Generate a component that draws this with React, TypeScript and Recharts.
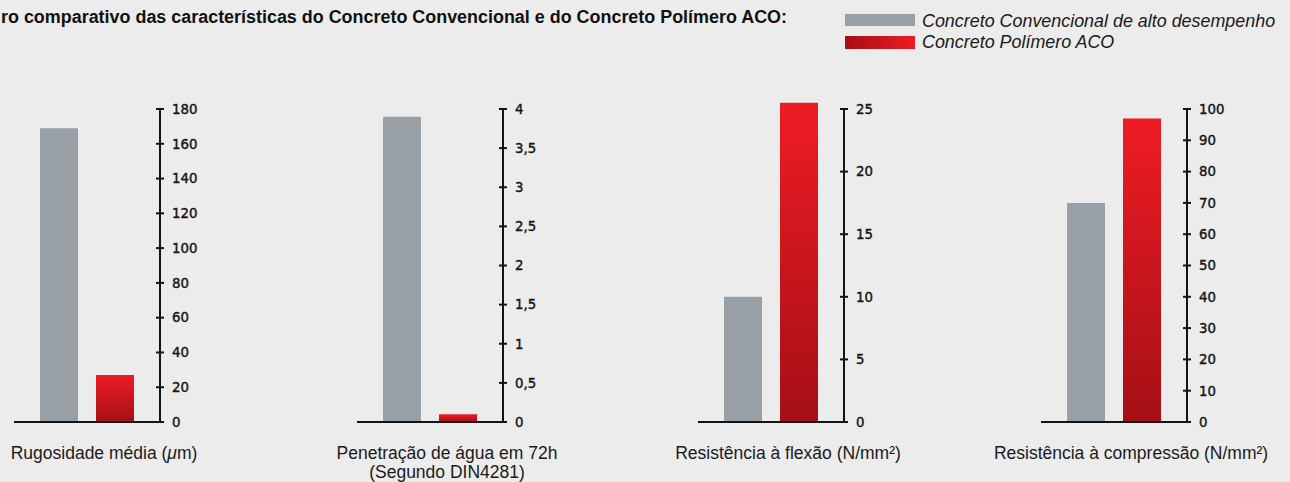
import { BarChart, Bar, XAxis, YAxis, ReferenceLine } from 'recharts'

// chart values
const categories = [
  'Rugosidade média (μm)',
  'Penetração de água em 72h\n(Segundo DIN4281)',
  'Resistência à flexão (N/mm²)',
  'Resistência à compressão (N/mm²)',
]
const convencional = [169, 3.9, 10, 70]
const polimero = [27, 0.1, 25.5, 97]
const tickSets = [
  [0, 20, 40, 60, 80, 100, 120, 140, 160, 180],
  [0, 0.5, 1, 1.5, 2, 2.5, 3, 3.5, 4],
  [0, 5, 10, 15, 20, 25],
  [0, 10, 20, 30, 40, 50, 60, 70, 80, 90, 100],
]
const seriesNames = ['Concreto Convencional de alto desempenho', 'Concreto Polímero ACO']
// the reference crops the first word of the heading at the left edge
const title = 'ro comparativo das características do Concreto Convencional e do Concreto Polímero ACO:'

const panelLeft = [14, 357, 698, 1041]
const PLOT_TOP = 100
const PLOT_BOTTOM = 422
const TICK_TOP = 109
const GRAY = '#98a0a6'
const INK = '#141414'

const fmt = (v: number) => String(v).replace('.', ',')

const YTick = ({ x, y, payload, top }: any) => (
  <g>
    {payload.value === top && (
      <line x1={x} x2={x} y1={y} y2={PLOT_BOTTOM + 1} stroke={INK} strokeWidth={2} />
    )}
    <line x1={x - 4} x2={x + 4} y1={y} y2={y} stroke={INK} strokeWidth={2} />
    <text x={x + 12} y={y} dy={4.8} fill={INK} stroke={INK} strokeWidth={0.4} fontSize={13.3}
      fontFamily="DejaVu Sans">{fmt(payload.value)}</text>
  </g>
)

const XTick = ({ x, y, payload }: any) => {
  const lines = String(payload.value).split('\n')
  return (
    <g>
      {lines.map((l, i) => (
        <text key={i} x={x + 17} y={y + 37 + i * 19} textAnchor="middle" fill="#1a1a1a"
          fontSize={17.5} fontFamily="Liberation Sans">
          {l.includes('μ')
            ? l.split('μ').map((part, j) => (
              <tspan key={j}>{j > 0 && <tspan fontStyle="italic">μ</tspan>}{part}</tspan>
            ))
            : l}
        </text>
      ))}
    </g>
  )
}

function Panel({ i }: { i: number }) {
  const ticks = tickSets[i]
  const top = ticks[ticks.length - 1]
  const data = [{ name: categories[i], conv: convencional[i], poli: polimero[i] }]
  // plot runs from PLOT_TOP, top tick sits a bit lower so tall bars can pass it
  const domMax = top * (PLOT_BOTTOM - PLOT_TOP) / (PLOT_BOTTOM - TICK_TOP)
  return (
    <div style={{ position: 'absolute', left: panelLeft[i], top: 0 }}>
      <BarChart width={206} height={482} data={data} barSize={38} barGap={18}
        margin={{ top: PLOT_TOP, right: 0, left: 0, bottom: 0 }}>
        <defs>
          <linearGradient id={`red${i}`} x1="0" y1="0" x2="0" y2="1">
            <stop offset="0%" stopColor="#ee1c25" />
            <stop offset="100%" stopColor="#a50f15" />
          </linearGradient>
        </defs>
        <XAxis dataKey="name" height={60} axisLine={false} tickLine={false} tickSize={0}
          tickMargin={0} tick={<XTick />} interval={0} />
        <YAxis orientation="right" width={60} domain={[0, domMax]} ticks={ticks}
          axisLine={false} tickLine={false} tickSize={0} tickMargin={0}
          tick={<YTick top={top} />} interval={0} />
        <Bar dataKey="conv" name={seriesNames[0]} fill={GRAY} isAnimationActive={false} />
        <Bar dataKey="poli" name={seriesNames[1]} fill={`url(#red${i})`} isAnimationActive={false} />
        <ReferenceLine y={0} stroke={INK} strokeWidth={2} />
      </BarChart>
    </div>
  )
}

export default function App() {
  return (
    <div style={{ position: 'absolute', left: 0, top: 0, width: 1290, height: 482,
      background: '#ececec', overflow: 'hidden', fontFamily: 'Liberation Sans' }}>
      <style>{'.recharts-surface, .recharts-wrapper { overflow: visible !important; }'}</style>
      <svg width={1290} height={90} style={{ position: 'absolute', left: 0, top: 0 }}>
        <defs>
          <linearGradient id="legRed" x1="0" y1="0" x2="1" y2="0">
            <stop offset="0%" stopColor="#a50f15" />
            <stop offset="100%" stopColor="#ee1c25" />
          </linearGradient>
        </defs>
        <text x={1} y={23} textLength={786} lengthAdjust="spacingAndGlyphs" fontSize={18}
          fontWeight="bold" fill="#111" fontFamily="Liberation Sans">{title}</text>
        <rect x={845} y={14} width={70} height={12} fill={GRAY} />
        <rect x={845} y={36} width={70} height={13} fill="url(#legRed)" />
        <text x={922} y={27} fontSize={17.9} fontStyle="italic" fill="#1a1a1a"
          fontFamily="Liberation Sans">{seriesNames[0]}</text>
        <text x={922} y={48} fontSize={17.9} fontStyle="italic" fill="#1a1a1a"
          fontFamily="Liberation Sans">{seriesNames[1]}</text>
      </svg>
      {categories.map((_, i) => <Panel key={i} i={i} />)}
    </div>
  )
}
